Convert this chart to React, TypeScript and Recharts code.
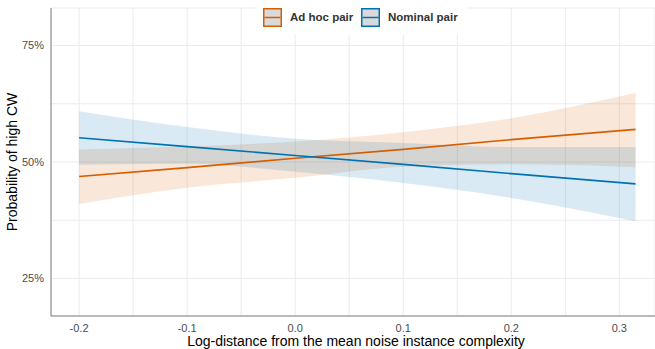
import React from 'react';
import { ComposedChart, Area, Line, XAxis, YAxis, CartesianGrid, Label } from 'recharts';

const distance = [-0.2, -0.1, 0.0, 0.1, 0.2, 0.315];

// Ad hoc pair: predicted probability (%) and its interval
const adHocMean = [46.9, 48.8, 50.8, 52.7, 54.8, 57.0];
const adHocLow = [41.0, 44.5, 46.6, 49.0, 49.5, 48.9];
const adHocHigh = [52.7, 53.3, 54.4, 56.4, 59.4, 64.8];

// Nominal pair
const nominalMean = [55.2, 53.3, 51.4, 49.5, 47.5, 45.3];
const nominalLow = [49.4, 49.6, 47.9, 45.5, 42.3, 37.3];
const nominalHigh = [60.9, 57.5, 55.0, 54.1, 53.2, 53.2];

const xTicks = [-0.2, -0.15, -0.1, -0.05, 0, 0.05, 0.1, 0.15, 0.2, 0.25, 0.3];
const yTicks = [25, 37.5, 50, 62.5, 75];

const ORANGE = '#D55E00';
const BLUE = '#0072B2';

const data = distance.map((x, i) => ({
  x,
  adHoc: adHocMean[i],
  adHocBand: [adHocLow[i], adHocHigh[i]],
  nominal: nominalMean[i],
  nominalBand: [nominalLow[i], nominalHigh[i]],
}));

const font = '"Liberation Sans", Arial, sans-serif';

const isMajor = (v: number, step: number) => Math.abs(v / step - Math.round(v / step)) < 1e-6;

const LegendKey = ({ color }: { color: string }) => (
  <svg width={19} height={19} style={{ display: 'block' }}>
    <rect x={0.75} y={0.75} width={17.5} height={17.5} fill="#d9d9d9" stroke={color} strokeWidth={1.5} />
    <line x1={1.5} x2={17.5} y1={9.5} y2={9.5} stroke={color} strokeWidth={1.5} />
  </svg>
);

const ChartLegend = () => (
  <div
    style={{
      position: 'absolute',
      left: 255,
      top: 0,
      width: 212,
      height: 35,
      background: 'white',
      fontFamily: font,
      fontWeight: 'bold',
      fontSize: 11.5,
      color: '#333',
    }}
  >
    <div style={{ position: 'absolute', left: 8, top: 8 }}><LegendKey color={ORANGE} /></div>
    <div style={{ position: 'absolute', left: 35, top: 10, lineHeight: '14px' }}>Ad hoc pair</div>
    <div style={{ position: 'absolute', left: 106, top: 8 }}><LegendKey color={BLUE} /></div>
    <div style={{ position: 'absolute', left: 133, top: 10, lineHeight: '14px' }}>Nominal pair</div>
  </div>
);

export default function App() {
  return (
    <div style={{ position: 'absolute', left: 0, top: 0, width: 655, height: 349, background: 'white' }}>
      <ComposedChart width={655} height={349} data={data} margin={{ top: 8, right: 0, bottom: 0, left: 8 }}>
        <CartesianGrid stroke="#ebebeb" strokeWidth={1} />
        <XAxis
          dataKey="x"
          type="number"
          domain={[-0.226, 0.333]}
          ticks={xTicks}
          allowDataOverflow
          height={33}
          tickLine={false}
          axisLine={{ stroke: '#7f7f7f' }}
          tick={{ fill: '#4d4d4d', fontSize: 11, fontFamily: font }}
          tickFormatter={(v: number) => (isMajor(v, 0.1) ? v.toFixed(1) : '')}
          interval={0}
        >
          <Label
            content={() => (
              <text x={356} y={346} textAnchor="middle" fontSize={14} fontFamily={font} fill="#000">
                Log-distance from the mean noise instance complexity
              </text>
            )}
          />
        </XAxis>
        <YAxis
          type="number"
          domain={[16.95, 83.05]}
          ticks={yTicks}
          allowDataOverflow
          width={43}
          tickLine={false}
          tickMargin={1}
          axisLine={{ stroke: '#7f7f7f' }}
          tick={{ fill: '#4d4d4d', fontSize: 11, fontFamily: font }}
          tickFormatter={(v: number) => (isMajor(v, 25) ? `${v}%` : '')}
          interval={0}
        >
          <Label
            content={() => (
              <text
                x={17}
                y={162}
                textAnchor="middle"
                fontSize={14}
                fontFamily={font}
                fill="#000"
                transform="rotate(-90 17 162)"
              >
                Probability of high CW
              </text>
            )}
          />
        </YAxis>
        <Area
          dataKey="adHocBand"
          type="monotone"
          stroke="none"
          fill={ORANGE}
          fillOpacity={0.15}
          isAnimationActive={false}
          activeDot={false}
        />
        <Area
          dataKey="nominalBand"
          type="monotone"
          stroke="none"
          fill={BLUE}
          fillOpacity={0.15}
          isAnimationActive={false}
          activeDot={false}
        />
        <Line dataKey="adHoc" type="linear" stroke={ORANGE} strokeWidth={1.6} dot={false} isAnimationActive={false} />
        <Line dataKey="nominal" type="linear" stroke={BLUE} strokeWidth={1.6} dot={false} isAnimationActive={false} />
      </ComposedChart>
      <ChartLegend />
    </div>
  );
}
